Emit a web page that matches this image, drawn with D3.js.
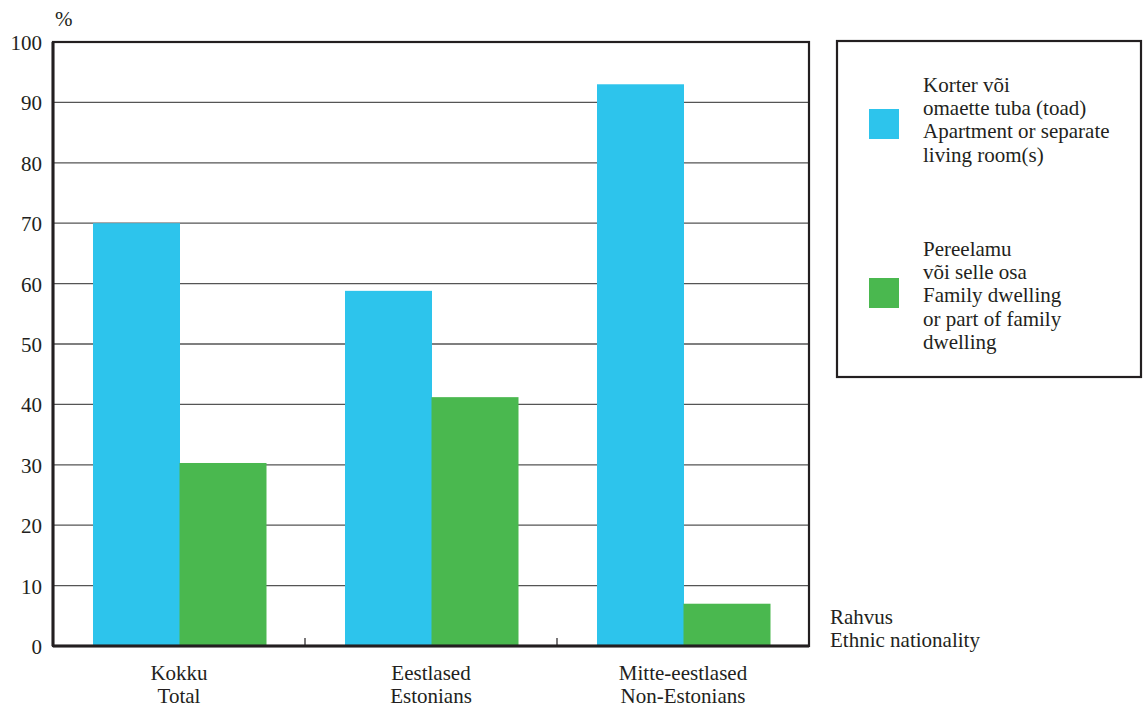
<!DOCTYPE html>
<html><head><meta charset="utf-8">
<script src="https://cdn.jsdelivr.net/npm/d3@7"></script>
<style>body{margin:0;background:#fff}text{font-family:"Liberation Serif","Times New Roman",serif;fill:#231f20}</style>
</head><body><svg id="c" width="1143" height="708"></svg>
<script>
const categories = [["Kokku","Total"],["Eestlased","Estonians"],["Mitte-eestlased","Non-Estonians"]];
const seriesNames = [
  ["Korter või","omaette tuba (toad)","Apartment or separate","living room(s)"],
  ["Pereelamu","või selle osa","Family dwelling","or part of family","dwelling"]
];
const apartment = [70.0, 58.8, 93.0];
const family = [30.3, 41.2, 7.0];
const yTicks = [0,10,20,30,40,50,60,70,80,90,100];
const colors = ["#2dc4ec","#4ab84f"];
const FS = 21;

const svg = d3.select("#c");
const L=53,R=809,T=42,B=646;
const x = d3.scaleBand().domain(d3.range(categories.length)).range([L,R]).paddingInner(0).paddingOuter(0);
const x1 = d3.scaleBand().domain([0,1]).range([40,213]);
const y = d3.scaleLinear().domain([0,100]).range([B,T]);

// gridlines
svg.append("g").selectAll("line").data(yTicks.filter(d=>d>0&&d<100)).join("line")
  .attr("x1",L).attr("x2",R).attr("y1",d=>y(d)).attr("y2",d=>y(d))
  .attr("stroke","#555").attr("stroke-width",1.3);

// bars
const series=[apartment,family];
series.forEach((s,si)=>{
  svg.append("g").selectAll("rect").data(s).join("rect")
    .attr("x",(d,i)=>x(i)+x1(si)).attr("width",x1.bandwidth()+0.5)
    .attr("y",d=>y(d)).attr("height",d=>B-y(d)).attr("fill",colors[si]);
});

// frame
svg.append("rect").attr("x",L).attr("y",T).attr("width",R-L).attr("height",B-T)
  .attr("fill","none").attr("stroke","#231f20").attr("stroke-width",2.2);
svg.append("line").attr("x1",L).attr("x2",R).attr("y1",B).attr("y2",B).attr("stroke","#231f20").attr("stroke-width",3);
svg.append("line").attr("x1",L).attr("x2",L).attr("y1",T).attr("y2",B).attr("stroke","#231f20").attr("stroke-width",3);

// category ticks
svg.append("g").selectAll("line").data(d3.range(1,categories.length)).join("line")
  .attr("x1",d=>x(d)).attr("x2",d=>x(d)).attr("y1",B).attr("y2",B-8)
  .attr("stroke","#231f20").attr("stroke-width",1.2);

// y labels
svg.append("g").selectAll("text").data(yTicks).join("text")
  .attr("x",42).attr("y",d=>y(d)+8).attr("text-anchor","end").attr("font-size",FS).text(d=>d);
svg.append("text").attr("x",55).attr("y",26).attr("font-size",FS).text("%");

// x labels
categories.forEach((c,i)=>{
  c.forEach((t,j)=>{
    svg.append("text").attr("x",x(i)+x.bandwidth()/2).attr("y",680+j*22.5)
      .attr("text-anchor","middle").attr("font-size",FS).text(t);
  });
});
svg.append("text").attr("x",830).attr("y",624).attr("font-size",FS).text("Rahvus");
svg.append("text").attr("x",830).attr("y",647).attr("font-size",FS).text("Ethnic nationality");

// legend
svg.append("rect").attr("x",837).attr("y",41).attr("width",304).attr("height",336)
  .attr("fill","none").attr("stroke","#231f20").attr("stroke-width",2.2);
const legY=[109,278];
seriesNames.forEach((names,si)=>{
  svg.append("rect").attr("x",869).attr("y",legY[si]).attr("width",30).attr("height",30).attr("fill",colors[si]);
  const top = si===0?92:256;
  names.forEach((t,j)=>{
    svg.append("text").attr("x",923).attr("y",top+j*23.2).attr("font-size",FS).text(t);
  });
});
</script></body></html>
